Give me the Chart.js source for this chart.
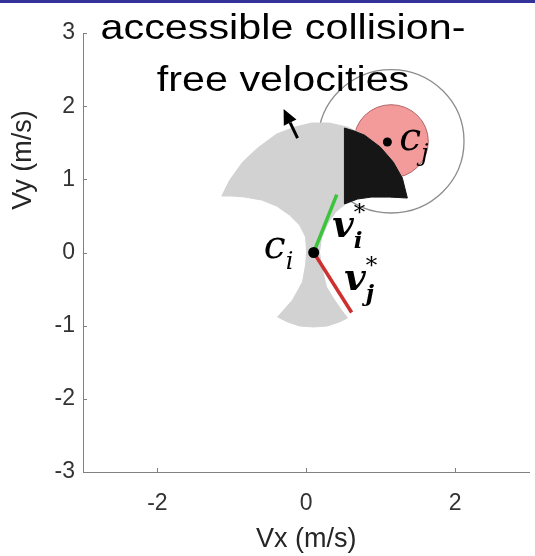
<!DOCTYPE html>
<html>
<head>
<meta charset="utf-8">
<script src="https://cdn.jsdelivr.net/npm/chart.js@4.4.1/dist/chart.umd.min.js"></script>
<style>
html,body{margin:0;padding:0;background:#fff;}
#wrap{position:relative;width:535px;height:556px;}
</style>
</head>
<body>
<div id="wrap"><canvas id="c"></canvas></div>
<script>
// ---- data ----
const xTicks = [-2, 0, 2];
const yTicks = [-3, -2, -1, 0, 1, 2, 3];
const titleLines = ['accessible collision-', 'free velocities'];
const xTitle = 'Vx (m/s)';
const yTitle = 'Vy (m/s)';

// accessible velocity region outline (Vx, Vy)
const regionX = [-1.135,-1.028,-0.854,-0.653,-0.398,-0.157,0.071,0.313,0.554,0.782,0.996,1.170,1.291,1.358,
  1.117,0.875,0.688,0.527,0.393,0.285,0.205,0.178,0.205,0.272,0.379,0.473,0.554,
  0.446,0.286,0.098,-0.090,-0.251,-0.385,
  -0.184,-0.050,-0.009,0.004,-0.009,-0.090,-0.224,-0.398,-0.599,-0.827,-1.001,-1.135];
const regionY = [0.772,0.990,1.236,1.428,1.619,1.713,1.769,1.769,1.713,1.605,1.441,1.236,1.018,0.745,
  0.758,0.758,0.731,0.663,0.553,0.389,0.198,0.007,-0.184,-0.471,-0.649,-0.785,-0.894,
  -0.949,-1.004,-1.018,-1.004,-0.949,-0.881,
  -0.649,-0.403,-0.171,0.007,0.212,0.376,0.512,0.635,0.717,0.758,0.772,0.772];

// colliding part of the region
const blackX = [0.513,0.647,0.782,0.996,1.170,1.291,1.358,1.117,0.875,0.688,0.513,0.513];
const blackY = [1.701,1.660,1.605,1.441,1.236,1.018,0.745,0.758,0.758,0.731,0.663,1.701];

const ci = [0.10, 0.00];
const viEnd = [0.41, 0.79];
const vjEnd = [0.61, -0.82];
const cj = [1.09, 1.51];

const circleCx = [1.14, 1.14];
const circleCy = [1.52, 1.52];
const circleR  = [0.98, 0.50];

const arrowFrom = [-0.117, 1.564];
const arrowTo   = [-0.304, 1.960];

// ---- helpers ----
const pts = (xs, ys) => xs.map((x, i) => ({x: x, y: ys[i]}));

const annot = [
  {main:'c', sub:'i', x:-0.57, y:-0.075, bold:false},
  {main:'v', sub:'i', sup:'*', x:0.35, y:0.212, bold:true},
  {main:'v', sub:'j', sup:'*', x:0.51, y:-0.512, bold:true},
  {main:'c', sub:'j', x:1.25, y:1.40, bold:false}
];

const decor = {
  id: 'decor',
  beforeDatasetsDraw(chart) {
    const {ctx, scales:{x, y}} = chart;
    ctx.save();
    for (let i = 0; i < circleR.length; i++) {
      const px = x.getPixelForValue(circleCx[i]);
      const py = y.getPixelForValue(circleCy[i]);
      const rx = Math.abs(x.getPixelForValue(circleCx[i] + circleR[i]) - px);
      const ry = Math.abs(y.getPixelForValue(circleCy[i] + circleR[i]) - py);
      ctx.beginPath();
      ctx.ellipse(px, py, rx, ry, 0, 0, Math.PI * 2);
      if (i === 0) {
        ctx.strokeStyle = '#8c8c8c'; ctx.lineWidth = 1.3; ctx.stroke();
      } else {
        ctx.fillStyle = '#f39b9b'; ctx.fill();
        ctx.strokeStyle = '#b06464'; ctx.lineWidth = 1; ctx.stroke();
      }
    }
    ctx.restore();
  },
  afterDraw(chart) {
    const {ctx, scales:{x, y}, chartArea} = chart;
    ctx.save();
    // top band
    ctx.fillStyle = '#333399';
    ctx.fillRect(0, 0, chart.width, 3);
    // inward ticks
    ctx.strokeStyle = '#808080'; ctx.lineWidth = 1;
    yTicks.forEach(v => {
      const py = Math.round(y.getPixelForValue(v)) + 0.5;
      ctx.beginPath(); ctx.moveTo(chartArea.left, py); ctx.lineTo(chartArea.left + 4, py); ctx.stroke();
    });
    xTicks.forEach(v => {
      const px = Math.round(x.getPixelForValue(v)) + 0.5;
      ctx.beginPath(); ctx.moveTo(px, chartArea.bottom); ctx.lineTo(px, chartArea.bottom - 4); ctx.stroke();
    });
    // arrow
    const ax0 = x.getPixelForValue(arrowFrom[0]), ay0 = y.getPixelForValue(arrowFrom[1]);
    const ax1 = x.getPixelForValue(arrowTo[0]), ay1 = y.getPixelForValue(arrowTo[1]);
    const ang = Math.atan2(ay1 - ay0, ax1 - ax0);
    const hl = 15, hw = 7;
    const bx = ax1 - hl * Math.cos(ang), by = ay1 - hl * Math.sin(ang);
    ctx.strokeStyle = '#000'; ctx.lineWidth = 3;
    ctx.beginPath(); ctx.moveTo(ax0, ay0); ctx.lineTo(bx, by); ctx.stroke();
    ctx.fillStyle = '#000';
    ctx.beginPath();
    ctx.moveTo(ax1, ay1);
    ctx.lineTo(bx + hw * Math.sin(ang), by - hw * Math.cos(ang));
    ctx.lineTo(bx - hw * Math.sin(ang), by + hw * Math.cos(ang));
    ctx.closePath(); ctx.fill();
    // math labels
    ctx.fillStyle = '#000'; ctx.textBaseline = 'alphabetic'; ctx.textAlign = 'left';
    annot.forEach(a => {
      const px = x.getPixelForValue(a.x), py = y.getPixelForValue(a.y);
      ctx.font = (a.bold ? 'italic bold 37px ' : 'italic 39px ') + '"DejaVu Serif"';
      ctx.fillText(a.main, px, py);
      const w = ctx.measureText(a.main).width;
      ctx.font = (a.bold ? 'italic bold 23px ' : 'italic 24px ') + '"DejaVu Serif"';
      ctx.fillText(a.sub, px + w, py + 11);
      if (a.sup) {
        ctx.font = '23px "DejaVu Serif"';
        ctx.fillText(a.sup, px + w, py - 17);
      }
    });
    // title
    ctx.font = '35px "Liberation Sans"';
    ctx.textAlign = 'center';
    titleLines.forEach((t, i) => {
      ctx.save();
      ctx.translate(283, 39 + i * 52);
      ctx.scale(1.18, 1);
      ctx.fillText(t, 0, 0);
      ctx.restore();
    });
    // axis titles
    ctx.fillStyle = '#262626';
    ctx.font = '27px "Liberation Sans"';
    ctx.textBaseline = 'middle';
    ctx.fillText(xTitle, (chartArea.left + chartArea.right) / 2, 540);
    ctx.save();
    ctx.translate(24, 160);
    ctx.rotate(-Math.PI / 2);
    ctx.fillText(yTitle, 0, 0);
    ctx.restore();
    ctx.restore();
  }
};

new Chart(document.getElementById('c'), {
  type: 'scatter',
  data: {
    datasets: [
      {data: pts([ci[0], cj[0]], [ci[1], cj[1]]), showLine: false, pointRadius: [5.5, 4.5],
       pointBackgroundColor: '#000', pointBorderWidth: 0, order: 1},
      {data: pts([ci[0], viEnd[0]], [ci[1], viEnd[1]]), showLine: true, borderColor: '#3cc43c',
       borderWidth: 3.5, pointRadius: 0, order: 2},
      {data: pts([ci[0], vjEnd[0]], [ci[1], vjEnd[1]]), showLine: true, borderColor: '#cc3030',
       borderWidth: 3.5, pointRadius: 0, order: 3},
      {data: pts(blackX, blackY), showLine: true, fill: 'shape', backgroundColor: '#161616',
       borderColor: '#161616', borderWidth: 1, pointRadius: 0, order: 4},
      {data: pts(regionX, regionY), showLine: true, fill: 'shape', backgroundColor: '#d2d2d2',
       borderColor: '#d2d2d2', borderWidth: 1, pointRadius: 0, order: 5}
    ]
  },
  options: {
    responsive: true,
    maintainAspectRatio: false,
    animation: false,
    events: [],
    layout: {padding: {top: 33, right: 4, left: 0, bottom: 0}},
    plugins: {legend: {display: false}, tooltip: {enabled: false}, title: {display: false}},
    scales: {
      x: {
        type: 'linear', min: -3, max: 3,
        afterBuildTicks: s => { s.ticks = xTicks.map(v => ({value: v})); },
        afterFit: s => { s.height = 84; },
        grid: {display: false, drawTicks: false},
        border: {display: true, color: '#808080', width: 1},
        ticks: {padding: 18, color: '#333333', font: {family: '"Liberation Sans"', size: 23}}
      },
      y: {
        type: 'linear', min: -3, max: 3,
        afterBuildTicks: s => { s.ticks = yTicks.map(v => ({value: v})); },
        afterFit: s => { s.width = 83; },
        grid: {display: false, drawTicks: false},
        border: {display: true, color: '#808080', width: 1},
        ticks: {padding: 8, color: '#333333', font: {family: '"Liberation Sans"', size: 23}}
      }
    }
  },
  plugins: [decor]
});
</script>
</body>
</html>
